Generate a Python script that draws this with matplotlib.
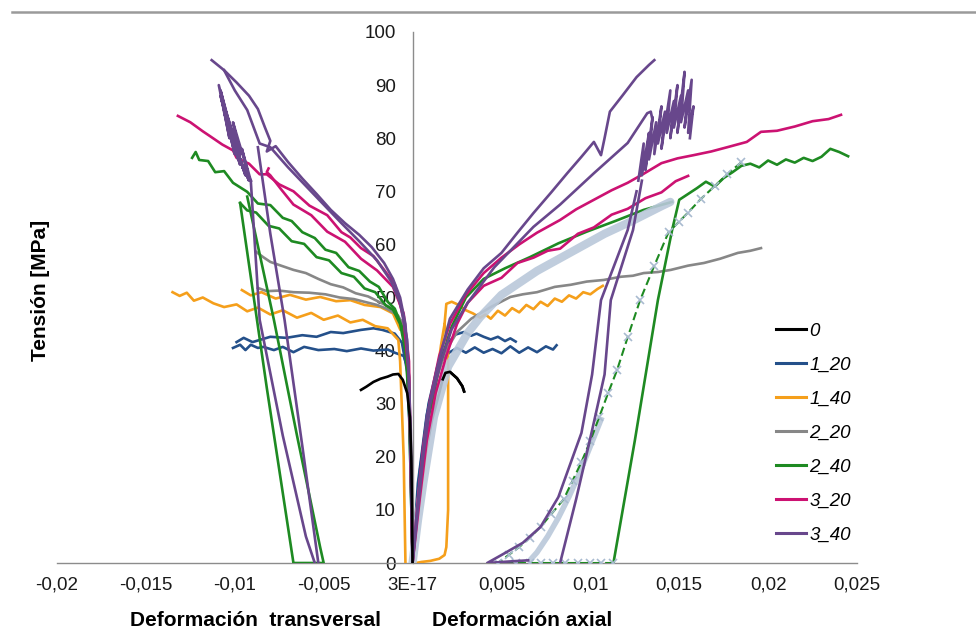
import matplotlib.pyplot as plt
from matplotlib.lines import Line2D
from matplotlib.font_manager import FontProperties

plt.rcParams['font.family'] = ['Liberation Sans', 'DejaVu Sans']

# ---------------- datos (deformación, tensión MPa) ----------------
series_names = ['0', '1_20', '1_40', '2_20', '2_40', '3_20', '3_40']
series_colors = ['#000000', '#24508A', '#F59F1B', '#878787', '#1E8A22', '#CC1272', '#68478C']

x_ticks = [-0.02, -0.015, -0.01, -0.005, 0, 0.005, 0.01, 0.015, 0.02, 0.025]
x_tick_labels = ['-0,02', '-0,015', '-0,01', '-0,005', '3E-17', '0,005', '0,01', '0,015', '0,02', '0,025']
y_ticks = [0, 10, 20, 30, 40, 50, 60, 70, 80, 90, 100]

# 0
c0_tx = [0, -0.00003, -0.00007, -0.00015, -0.0003, -0.00055, -0.0008, -0.0011, -0.0014, -0.0018, -0.0022, -0.0026, -0.0029]
c0_ty = [0, 10, 20, 27.5, 32, 34.5, 35.6, 35.5, 35.1, 34.7, 34.1, 33.2, 32.6]
c0_ax = [0, 0.0003, 0.0007, 0.0011, 0.0015, 0.0017, 0.00185, 0.0021, 0.0025, 0.0028, 0.0029]
c0_ay = [0, 10, 20, 27, 32, 34.6, 35.8, 36, 34.8, 33.3, 32.3]

# 1_20
c120_t1x = [0, -0.0001, -0.0002, -0.0003, -0.0005, -0.0010, -0.0014, -0.0022, -0.0029, -0.0037, -0.0044, -0.0053, -0.0061,
            -0.0067, -0.0073, -0.0078, -0.0084, -0.0087, -0.0091, -0.0094, -0.0097, -0.0101]
c120_t1y = [0, 15, 30, 37, 39, 39.6, 40.2, 40.0, 40.4, 39.9, 40.3, 40.1, 40.7, 39.7, 40.7, 40.1, 40.7, 40.5, 41.1, 40.1, 41.1, 40.5]
c120_t2x = [0, -0.0001, -0.0003, -0.0006, -0.0010, -0.0017, -0.0022, -0.0029, -0.0039, -0.0046, -0.0054, -0.0062, -0.0071,
            -0.0080, -0.0090, -0.0095, -0.0099]
c120_t2y = [0, 20, 36, 41.5, 43.2, 43.9, 44.2, 43.9, 43.3, 43.5, 42.6, 42.9, 42.4, 42.6, 41.6, 42.4, 41.6]
c120_a1x = [0, 0.0003, 0.0008, 0.0013, 0.0017, 0.0021, 0.0025, 0.0030, 0.0035, 0.0040, 0.0045, 0.0050, 0.0055, 0.0060,
            0.0065, 0.0070, 0.0075, 0.0079, 0.0081]
c120_a1y = [0, 15, 28, 35, 38.5, 39.7, 40.5, 39.6, 40.6, 39.6, 40.3, 39.5, 40.8, 39.6, 40.6, 39.7, 40.8, 40.2, 41.0]
c120_a2x = [0, 0.0004, 0.0009, 0.0014, 0.0019, 0.0024, 0.0029, 0.0033, 0.0036, 0.0040, 0.0044, 0.0048, 0.0052, 0.0055, 0.0058]
c120_a2y = [0, 17, 30, 37, 41, 43, 43.5, 42.8, 43.2, 42.6, 42.1, 42.6, 41.8, 42.3, 41.7]

# 1_40
c140_t1x = [-0.0135, -0.0131, -0.0127, -0.0123, -0.0118, -0.0112, -0.0106, -0.0099, -0.0093, -0.0087, -0.0080, -0.0073,
            -0.0065, -0.0057, -0.0050, -0.0042, -0.0035, -0.0028, -0.0021, -0.0014, -0.0008, -0.0007, -0.0005, -0.0004]
c140_t1y = [51.0, 50.3, 50.9, 49.4, 50.0, 48.9, 48.2, 48.7, 47.4, 48.1, 46.8, 47.6, 46.2, 47.1, 45.8, 46.6, 45.3, 45.8,
            44.6, 44.2, 42, 38, 20, 0]
c140_t2x = [-0.0096, -0.0091, -0.0085, -0.0077, -0.0069, -0.0060, -0.0052, -0.0043, -0.0035, -0.0027, -0.0018, -0.0011, -0.0007]
c140_t2y = [51.4, 50.4, 51.0, 49.8, 50.5, 49.6, 50.1, 49.3, 49.5, 48.6, 48.2, 47.0, 44.0]
c140_a1x = [0, 0.0002, 0.0005, 0.0008, 0.0011, 0.0014, 0.0016, 0.0018, 0.0019, 0.0022, 0.0026, 0.0030, 0.0034, 0.0038,
            0.0041, 0.0044, 0.0048, 0.0052, 0.0056, 0.0060, 0.0064, 0.0068, 0.0072, 0.0076, 0.0080, 0.0084, 0.0088,
            0.0092, 0.0096, 0.0100, 0.0104, 0.0107]
c140_a1y = [0, 6, 14, 22, 29, 36, 41, 45, 48.8, 49.2, 48.6, 47.6, 47.0, 46.2, 46.8, 46.0, 47.5, 46.6, 48.0, 47.2, 48.6,
            47.8, 49.2, 48.4, 49.8, 49.2, 50.4, 49.8, 51.0, 50.6, 51.6, 52.2]
c140_a2x = [0.0018, 0.0020, 0.0020, 0.0020, 0.0019, 0.0018, 0.0015, 0.0010, 0.0005, 0.0002]
c140_a2y = [45, 40, 25, 10, 3, 1.5, 0.8, 0.4, 0.2, 0]

# 2_20
c220_t1x = [0, -0.0001, -0.0002, -0.0004, -0.0008, -0.0013, -0.0019, -0.0025, -0.0032, -0.0039, -0.0046, -0.0053,
            -0.0060, -0.0067, -0.0074, -0.0080, -0.0084, -0.0088]
c220_t1y = [0, 20, 35, 43, 46.5, 48.2, 49.2, 50.2, 50.8, 51.9, 52.5, 53.5, 54.6, 55.2, 56.0, 56.7, 57.6, 58.6]
c220_t2x = [-0.0005, -0.0009, -0.0014, -0.0020, -0.0026, -0.0033, -0.0041, -0.0049, -0.0058, -0.0067, -0.0075, -0.0082, -0.0087]
c220_t2y = [45, 46.8, 47.8, 48.6, 49.1, 49.7, 50.0, 50.6, 50.9, 51.0, 51.3, 51.2, 51.8]
c220_ax = [0, 0.0003, 0.0007, 0.0012, 0.0018, 0.0025, 0.0033, 0.0044, 0.0055, 0.0062, 0.0070, 0.0080, 0.0089, 0.0098,
           0.01075, 0.0117, 0.0124, 0.0130, 0.0138, 0.01453, 0.0155, 0.01639, 0.0173, 0.0183, 0.0190, 0.0196]
c220_ay = [0, 12, 24, 33, 39.5, 43.5, 46, 48.2, 50.1, 50.6, 51.0, 52.0, 52.4, 53.0, 53.3, 53.9, 54.1, 54.6, 54.8, 55.2,
           56.0, 56.5, 57.3, 58.4, 58.8, 59.3]

# 2_40
c240_t1x = [0, -0.0001, -0.0003, -0.0006, -0.0010, -0.0014, -0.0019, -0.0024, -0.0030, -0.0036, -0.0043, -0.0049,
            -0.0055, -0.0062, -0.0068, -0.0073, -0.0080, -0.0087, -0.0093, -0.0101, -0.0106, -0.0111, -0.0115, -0.0120,
            -0.0122, -0.0124]
c240_t1y = [0, 20, 38, 44.5, 47.9, 49.2, 52.0, 53.0, 55.0, 55.7, 58.4, 59.0, 61.2, 62.3, 64.4, 65.0, 67.4, 67.7, 69.9,
            71.6, 73.8, 73.6, 75.7, 75.9, 77.4, 76.3]
c240_t2x = [0, -0.0002, -0.0004, -0.0007, -0.0011, -0.0015, -0.0021, -0.0027, -0.0033, -0.0040, -0.0047, -0.0054,
            -0.0061, -0.0068, -0.0075, -0.0081, -0.0088, -0.0093, -0.0097]
c240_t2y = [0, 30, 40, 45, 47.7, 48.5, 51.0, 51.7, 53.9, 54.6, 57.0, 57.6, 60.1, 60.6, 63.0, 63.5, 66.0, 66.4, 67.8]
c240_t3x = [-0.0097, -0.0082, -0.0067, -0.0058, -0.0050, -0.0052, -0.0065, -0.0078, -0.0093]
c240_t3y = [67.8, 33, 0, 0, 0, 3, 24, 45.8, 69]
c240_a1x = [0, 0.0004, 0.0009, 0.0015, 0.0022, 0.0030, 0.0040, 0.0052, 0.0066, 0.0082, 0.0098, 0.0114, 0.0130, 0.0146]
c240_a1y = [0, 14, 27, 37, 44.5, 50, 53.5, 55.5, 57.6, 60.2, 62.4, 64.4, 66.5, 68]
c240_a2x = [0.0113, 0.0125, 0.0138, 0.0146, 0.0150, 0.0155, 0.0160, 0.0165, 0.0170, 0.0175, 0.0180, 0.0185, 0.0190,
            0.0195, 0.0200, 0.0205, 0.0210, 0.0215, 0.0220, 0.0225, 0.0230, 0.0235, 0.0240, 0.0245]
c240_a2y = [0, 23, 49.5, 62.7, 68.4, 69.5, 70.6, 71.8, 70.9, 72.5, 73.6, 74.8, 75.2, 74.5, 75.8, 75.0, 76.0, 75.4, 76.3,
            75.7, 76.5, 78.0, 77.4, 76.6]
# recarga con marcadores
c240_a3x = [0.0113, 0.0106, 0.0100, 0.0093, 0.0086, 0.0079, 0.0072, 0.0066, 0.0058, 0.0048, 0.0054, 0.0060, 0.0066,
            0.0072, 0.0078, 0.0085, 0.0090, 0.0095, 0.0100, 0.0105, 0.0110, 0.0115, 0.0121, 0.0128, 0.0136, 0.0144,
            0.0150, 0.0155, 0.0162, 0.0170, 0.0177, 0.0185]
c240_a3y = [0, 0, 0, 0, 0, 0, 0, 0, 0, 0, 1.5, 3, 4.8, 6.8, 9.2, 12, 15.5, 19, 23, 27.5, 32, 36.3, 42.5, 49.5, 56, 62.3,
            64.3, 66, 68.5, 71, 73.2, 75.5]
band_x = [0, 0.0003, 0.0006, 0.0012, 0.0020, 0.0031, 0.0038, 0.0050, 0.0070, 0.0089, 0.0108, 0.0124, 0.0140, 0.0145]
band_y = [0, 8, 15, 27.5, 37, 43.3, 46.3, 50.5, 55, 58.5, 62, 64.5, 67.2, 68]
band2_x = [0.0106, 0.0100, 0.0094, 0.0088, 0.0082, 0.0076, 0.0070, 0.0066]
band2_y = [27, 22, 17, 12.5, 8.5, 5, 2, 0.5]

# 3_20
c320_t1x = [0, -0.0002, -0.0005, -0.0010, -0.0016, -0.0022, -0.0029, -0.0035, -0.0040, -0.0048, -0.0058, -0.0067,
            -0.0075, -0.0082, -0.0086, -0.0092, -0.0099, -0.0101, -0.0107, -0.0114, -0.0118, -0.0125, -0.0132]
c320_t1y = [0, 35, 46, 52.5, 55.2, 57.8, 59.3, 61.3, 62.3, 65.5, 67.3, 70.0, 71.3, 73.2, 73.2, 75.2, 76.3, 77.7, 78.8,
            80.4, 81.3, 83.0, 84.2]
c320_t2x = [0, -0.0002, -0.0005, -0.0011, -0.0020, -0.0029, -0.0038, -0.0048, -0.0057, -0.0067, -0.0074, -0.0080,
            -0.0082, -0.0081]
c320_t2y = [0, 38, 47, 52, 55.1, 57.3, 60.5, 62.4, 65.5, 67.5, 70.4, 73.0, 73.6, 74.3]
c320_a1x = [0, 0.0003, 0.0006, 0.0010, 0.0015, 0.0021, 0.0030, 0.0040, 0.0050, 0.0060, 0.0070, 0.0083, 0.0092, 0.0102,
            0.0112, 0.0121, 0.0130, 0.0140, 0.0149, 0.0158, 0.0168, 0.0177, 0.0188, 0.0196, 0.0205, 0.0215, 0.0225,
            0.0234, 0.0241]
c320_a1y = [0, 12, 22, 31, 39, 45, 50.5, 54.6, 57.5, 60, 62.2, 64.6, 66.6, 68.4, 70.2, 71.6, 73.3, 75.3, 76.2, 76.8,
            77.5, 78.3, 79.3, 81.2, 81.4, 82.2, 83.2, 83.6, 84.4]
c320_a2x = [0, 0.0004, 0.0008, 0.0013, 0.0019, 0.0025, 0.0031, 0.0040, 0.0050, 0.0059, 0.0068, 0.0076, 0.0083, 0.0093,
            0.0102, 0.0112, 0.0121, 0.0131, 0.0140, 0.0148, 0.0155]
c320_a2y = [0, 12, 23, 32, 39, 45, 49, 52.2, 53.7, 56.5, 57.5, 58.8, 59.2, 62.0, 63.2, 65.6, 66.7, 68.7, 69.8, 71.9, 72.9]

# 3_40
c340_t1x = [0, -0.0002, -0.0004, -0.0007, -0.0011, -0.0016, -0.0023, -0.0030, -0.0038, -0.0046, -0.0054, -0.0062,
            -0.0070, -0.0077, -0.0082, -0.0080, -0.0083, -0.0087, -0.0092, -0.0099, -0.0106, -0.0113]
c340_t1y = [0, 35, 45, 50, 53.5, 56.5, 59.5, 61.8, 64.0, 66.5, 69.5, 72.4, 75.5, 78.5, 77.5, 79.5, 82, 85.5, 88, 90.5, 92.8, 94.7]
c340_t2x = [0, -0.0001, -0.0003, -0.0007, -0.0012, -0.0020, -0.0030, -0.0040, -0.0050, -0.0060, -0.0070, -0.0080,
            -0.0086, -0.0093, -0.0100, -0.0106]
c340_t2y = [0, 25, 42, 49, 53, 57, 60.6, 64, 67.5, 71, 74.5, 78.3, 79, 85.3, 89, 92.8]
c340_t3x = [-0.0091, -0.0096, -0.0093, -0.0101, -0.0097, -0.0106, -0.0100, -0.0108, -0.0102, -0.0109, -0.0103, -0.0107,
            -0.0099, -0.0106, -0.0101, -0.0108, -0.0100, -0.0105, -0.0098, -0.0104, -0.0097, -0.0102, -0.0095, -0.0100,
            -0.0094, -0.0098, -0.0092, -0.0096, -0.0091]
c340_t3y = [72, 78, 74, 83, 77, 86, 79, 89, 81, 90, 80, 87, 78, 85, 79, 88, 77, 84, 76, 82, 75, 81, 74, 79, 73, 77, 72, 75, 72]
c340_t4x = [-0.0091, -0.0086, -0.0073, -0.0060, -0.0055]
c340_t4y = [72, 45.8, 24, 5, 0]
c340_t5x = [-0.0087, -0.0080, -0.0072, -0.0062, -0.0053]
c340_t5y = [78.3, 62, 45.8, 22, 0]
c340_a1x = [0, 0.0002, 0.0004, 0.0008, 0.0014, 0.0021, 0.0031, 0.0040, 0.0050, 0.0059, 0.0068, 0.0078, 0.0087, 0.0095,
            0.0102, 0.0106, 0.0108, 0.0111, 0.0118, 0.0126, 0.0133, 0.0136]
c340_a1y = [0, 8, 15, 27.5, 37, 46, 51.5, 55.5, 58.4, 62.2, 65.9, 69.8, 73.4, 76.5, 79.3, 76.8, 80, 85, 88, 91.5, 93.8, 94.7]
c340_a2x = [0, 0.0003, 0.0006, 0.0010, 0.0016, 0.0022, 0.0031, 0.0046, 0.0068, 0.0083, 0.0102, 0.0121, 0.0132, 0.0134, 0.0135]
c340_a2y = [0, 10, 20, 30, 38, 44, 49, 55.7, 63.3, 67.5, 73.4, 79.1, 84.7, 85, 83.4]
c340_a3x = [0.0127, 0.0130, 0.0129, 0.0133, 0.0131, 0.0135, 0.0133, 0.0137, 0.0136, 0.0140, 0.0138, 0.0142, 0.0140,
            0.0145, 0.0143, 0.0147, 0.0145, 0.0149, 0.0147, 0.0151, 0.0149, 0.0153, 0.0151, 0.0155, 0.0153, 0.0157,
            0.0155, 0.0158, 0.0156]
c340_a3y = [72, 79, 73, 81, 74, 84, 76, 83, 77, 86, 79, 85, 78, 89, 81, 87, 80, 90, 82, 88, 81, 92.5, 83, 89, 82, 91,
            81, 86, 80]
c340_a4x = [0.0129, 0.0124, 0.01115, 0.0108, 0.0101, 0.0092, 0.0083]
c340_a4y = [72, 62.7, 49.5, 35.5, 25, 12, 0]
c340_a5x = [0.0126, 0.0121, 0.0106, 0.0101, 0.0095, 0.0082, 0.0072, 0.0062, 0.0050, 0.0042, 0.0055, 0.0065]
c340_a5y = [70, 62.7, 49.5, 35.5, 24.5, 12.4, 6.8, 3.8, 1.5, 0, 0.3, 0.5]

curves = {
    '0': [(c0_tx, c0_ty)],
    '1_20': [(c120_t1x, c120_t1y), (c120_t2x, c120_t2y), (c120_a1x, c120_a1y), (c120_a2x, c120_a2y)],
    '1_40': [(c140_t1x, c140_t1y), (c140_t2x, c140_t2y), (c140_a1x, c140_a1y), (c140_a2x, c140_a2y)],
    '2_20': [(c220_t1x, c220_t1y), (c220_t2x, c220_t2y), (c220_ax, c220_ay)],
    '2_40': [(c240_t1x, c240_t1y), (c240_t2x, c240_t2y), (c240_t3x, c240_t3y), (c240_a1x, c240_a1y),
             (c240_a2x, c240_a2y)],
    '3_20': [(c320_t1x, c320_t1y), (c320_t2x, c320_t2y), (c320_a1x, c320_a1y), (c320_a2x, c320_a2y)],
    '3_40': [(c340_t1x, c340_t1y), (c340_t2x, c340_t2y), (c340_t3x, c340_t3y), (c340_t4x, c340_t4y),
             (c340_t5x, c340_t5y), (c340_a1x, c340_a1y), (c340_a2x, c340_a2y), (c340_a3x, c340_a3y),
             (c340_a4x, c340_a4y), (c340_a5x, c340_a5y)],
}

# ---------------- figura ----------------
fig = plt.figure(figsize=(9.76, 6.44), dpi=100)
ax = fig.add_axes([57 / 976, 1 - 563 / 644, 800 / 976, 531 / 644])

z = {'0': 9, '1_20': 2, '1_40': 3, '2_20': 4, '2_40': 5, '3_20': 7, '3_40': 8}
for name, col in zip(series_names, series_colors):
    for xs, ys in curves[name]:
        ax.plot(xs, ys, color=col, lw=1.9, zorder=z[name], solid_joinstyle='round')
# rama axial de "0": la subida queda debajo del haz, el arco encima
ax.plot(c0_ax, c0_ay, color='#000000', lw=1.9, zorder=1)
ax.plot(c0_ax[5:], c0_ay[5:], color='#000000', lw=1.9, zorder=9)

# banda con marcadores (serie de recarga)
ax.plot(band_x, band_y, color='#B9C8DA', lw=6, alpha=0.9, zorder=6, solid_capstyle='round')
ax.plot(band2_x, band2_y, color='#B9C8DA', lw=4, alpha=0.9, zorder=6)
ax.plot(c240_a3x, c240_a3y, color='#1E8A22', lw=1.5, ls=(0, (4, 2)), zorder=6,
        marker='x', ms=6, mec='#A9BBD0', mew=1.2)

ax.set_xlim(-0.02, 0.025)
ax.set_ylim(0, 100)
ax.set_xticks(x_ticks)
ax.set_xticklabels(x_tick_labels)
ax.set_yticks(y_ticks)
ax.tick_params(axis='both', length=0, labelsize=13.5, colors='#1a1a1a')
ax.tick_params(axis='x', pad=10)
ax.tick_params(axis='y', pad=12)

ax.spines['top'].set_visible(False)
ax.spines['right'].set_visible(False)
ax.spines['left'].set_position(('data', 0))
for s in ('left', 'bottom'):
    ax.spines[s].set_color('#8C8C8C')
    ax.spines[s].set_linewidth(1.0)
ax.patch.set_alpha(0)

handles = [Line2D([], [], color=c, lw=2.2) for c in series_colors]
leg = ax.legend(handles, series_names, loc='upper left', bbox_to_anchor=(0.878, 0.484), frameon=False,
                handlelength=1.6, handletextpad=0.15, labelspacing=0.9,
                prop=FontProperties(family=['Liberation Sans', 'DejaVu Sans'], style='italic', size=13.5))

fig.text(40 / 976, 1 - 290 / 644, 'Tensión [MPa]', rotation=90, ha='center', va='center',
         fontsize=15, fontweight='bold')
fig.text(255 / 976, 1 - 621 / 644, 'Deformación  transversal', ha='center', va='center',
         fontsize=15, fontweight='bold')
fig.text(522 / 976, 1 - 621 / 644, 'Deformación axial', ha='center', va='center',
         fontsize=15, fontweight='bold')

fig.add_artist(Line2D([0.012, 1.0], [1 - 12 / 644, 1 - 12 / 644], color='#9A9A9A', lw=1.8))

fig.savefig('out.png', dpi=100)
